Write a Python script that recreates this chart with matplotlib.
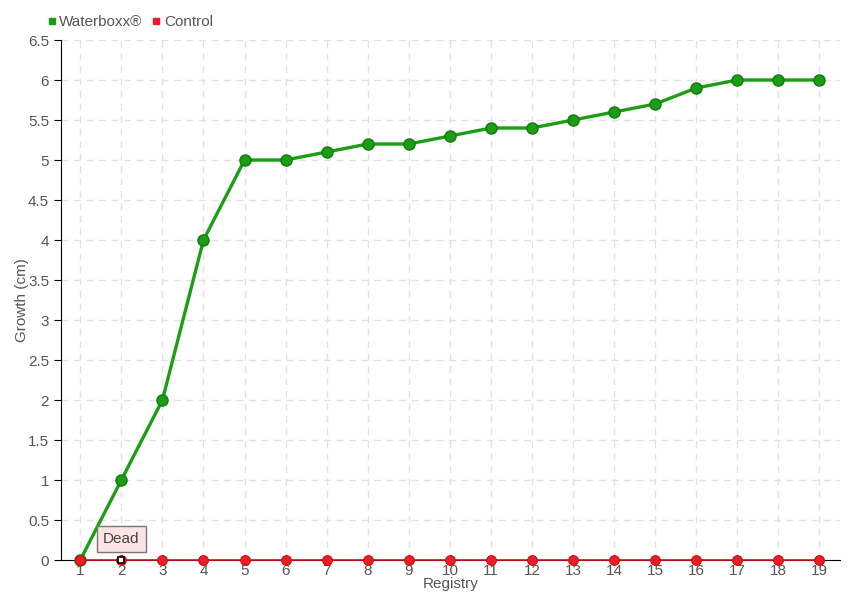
import matplotlib.pyplot as plt
from matplotlib.lines import Line2D

plt.rcParams['font.family'] = ['Liberation Sans', 'DejaVu Sans']

registry = list(range(1, 20))
waterboxx = [0, 1, 2, 4, 5, 5, 5.1, 5.2, 5.2, 5.3, 5.4, 5.4, 5.5, 5.6, 5.7, 5.9, 6, 6, 6]
control = [0] * 19
dead_at = 2

green = '#1c9e14'
red = '#ee1c25'
grey_txt = '#555555'

fig = plt.figure(figsize=(8.6, 6), dpi=100)
ax = fig.add_axes([61 / 860, 40 / 600, 779 / 860, 520 / 600])

ax.plot(registry, waterboxx, color=green, lw=2.4, marker='o', ms=8,
        mfc=green, mec='#147a10', mew=1, zorder=3, clip_on=False)
ax.plot(registry, control, color='#d8101c', lw=1.2, marker='o', ms=7,
        mfc=red, mec='#c81018', mew=0.8, zorder=4, clip_on=False)
ax.plot([dead_at], [0], marker='s', ms=5, mfc='white', mec='black', mew=1.2,
        zorder=5, clip_on=False)

ax.annotate('Dead', xy=(dead_at, 0), xytext=(dead_at, 0.26), ha='center', va='center',
            fontsize=11, color='#444444',
            bbox=dict(boxstyle='square,pad=0.4', fc='#fde3e3', ec='#777777', lw=1),
            zorder=6)

ax.set_xlim(0.53, 19.5)
ax.set_ylim(0, 6.5)
ax.set_xticks(registry)
ax.set_yticks([i * 0.5 for i in range(14)])
ax.set_yticklabels(['0', '0.5', '1', '1.5', '2', '2.5', '3', '3.5', '4', '4.5',
                    '5', '5.5', '6', '6.5'])
ax.tick_params(axis='both', labelsize=11, colors=grey_txt)
ax.tick_params(axis='y', length=5, color='black')
ax.tick_params(axis='x', length=0, pad=3)
ax.grid(True, ls=(0, (5, 4)), color='#e2e2e2', lw=1)
ax.set_axisbelow(True)
for s in ['top', 'right']:
    ax.spines[s].set_visible(False)
ax.spines['left'].set_color('black')
ax.spines['bottom'].set_color('black')
ax.set_ylabel('Growth (cm)', fontsize=11, color=grey_txt, labelpad=-1)
ax.set_xlabel('Registry', fontsize=11, color=grey_txt, labelpad=-1)

handles = [Line2D([], [], ls='none', marker='s', ms=5, color=green, label='Waterboxx\u00ae'),
           Line2D([], [], ls='none', marker='s', ms=5, color=red, label='Control')]
fig.legend(handles=handles, loc='center left', bbox_to_anchor=(47 / 860, 1 - 22 / 600),
           ncol=2, frameon=False, fontsize=11, handlelength=0.6, handletextpad=0.2,
           columnspacing=0.6, labelcolor=grey_txt, borderaxespad=0, borderpad=0)

fig.savefig('out.png', dpi=100)
